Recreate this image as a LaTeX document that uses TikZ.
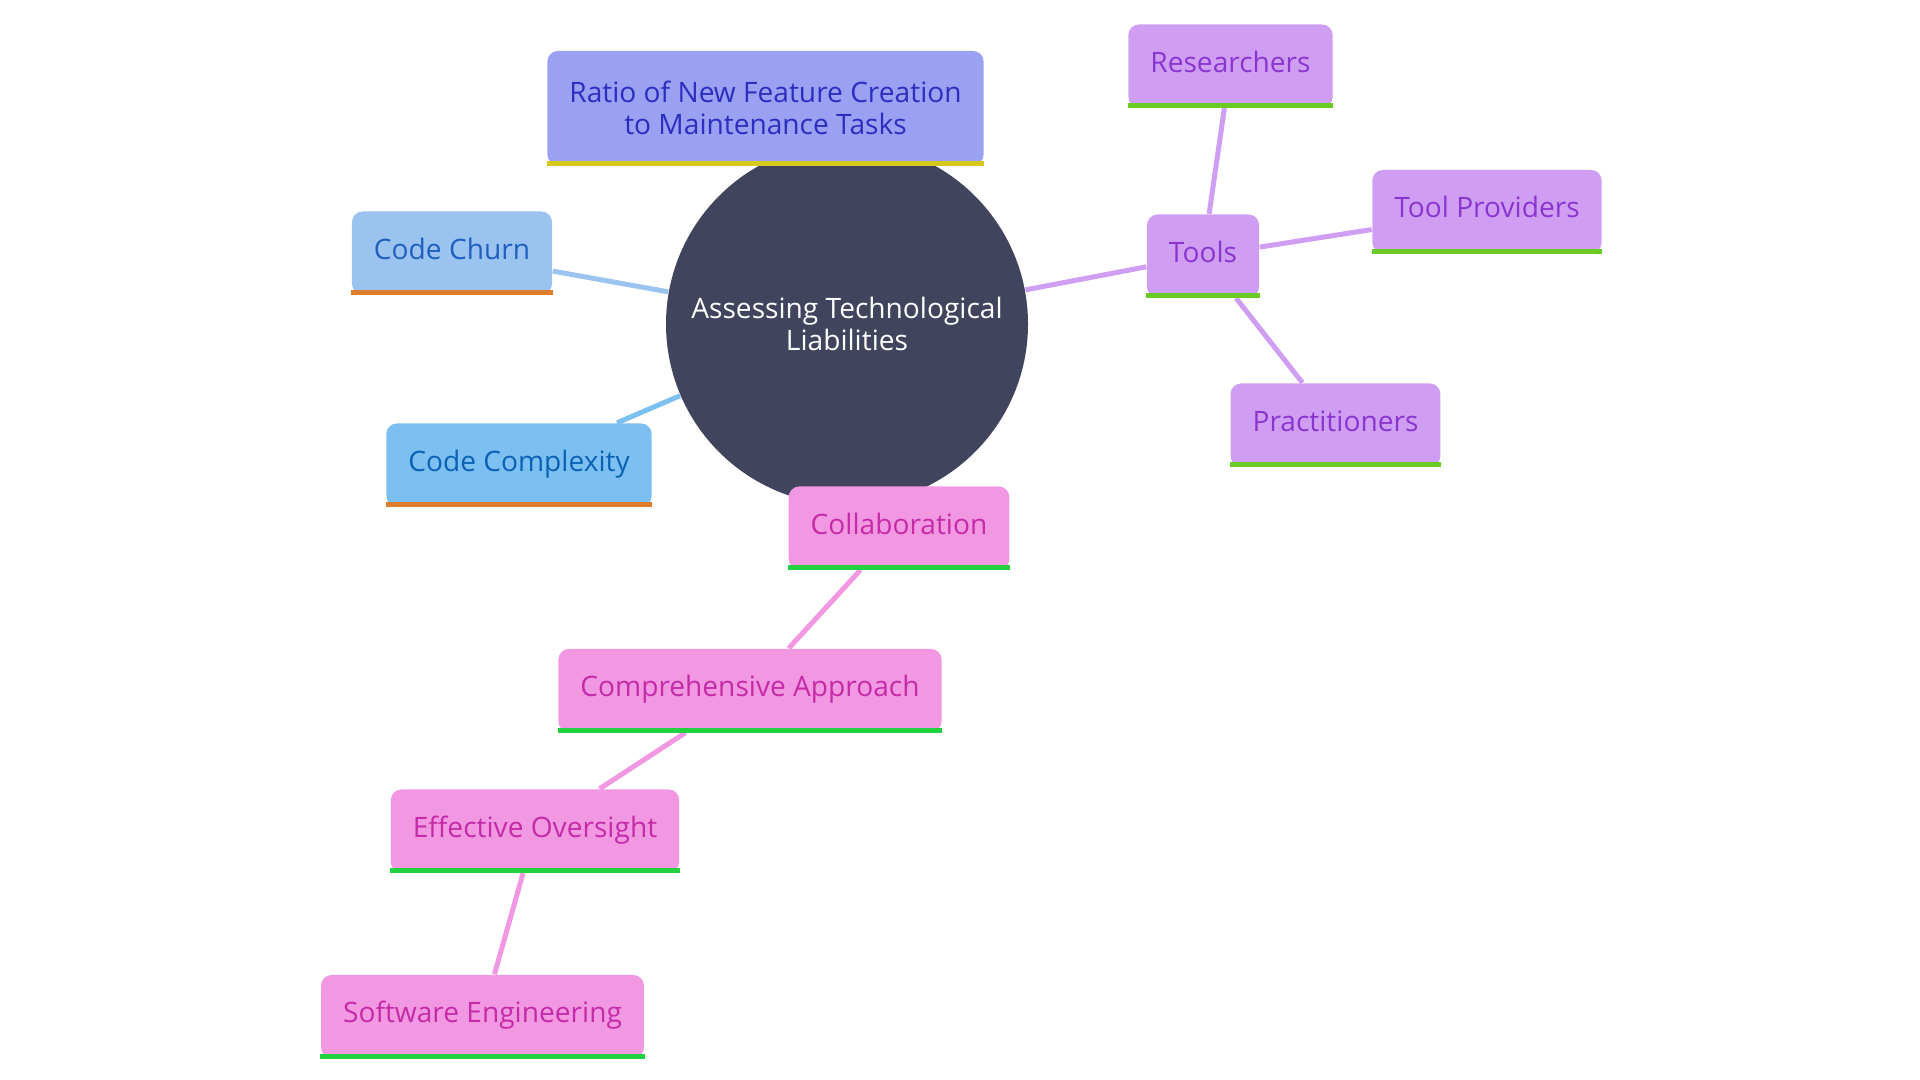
\documentclass[tikz,border=0pt]{standalone}
\usepackage{fontspec}
\setmainfont{Open Sans}
\usetikzlibrary{backgrounds}
\definecolor{hubfill}{RGB}{64,68,92}
\definecolor{ratiofill}{RGB}{154,160,242}
\definecolor{ratiotext}{RGB}{43,47,192}
\definecolor{baryellow}{RGB}{214,200,28}
\definecolor{churnfill}{RGB}{154,195,239}
\definecolor{churntext}{RGB}{31,95,191}
\definecolor{cplxfill}{RGB}{124,192,242}
\definecolor{cplxtext}{RGB}{11,98,180}
\definecolor{barorange}{RGB}{222,125,44}
\definecolor{toolfill}{RGB}{207,158,242}
\definecolor{tooltext}{RGB}{138,53,208}
\definecolor{barlime}{RGB}{106,204,34}
\definecolor{collabfill}{RGB}{242,152,226}
\definecolor{collabtext}{RGB}{197,42,168}
\definecolor{bargreen}{RGB}{34,209,64}

\begin{document}
\begin{tikzpicture}[
    mbox/.style={rectangle, rounded corners=3pt, minimum height=0.83cm, inner xsep=0.22cm, align=center, font=\fontsize{8}{9.1}\selectfont},
    leaf/.style={mbox, text height=0.21cm, text depth=0.085cm},
    hub/.style={circle, fill=hubfill, text=white, minimum size=3.62cm, align=center, font=\fontsize{8}{9.1}\selectfont},
    link/.style={line width=0.05cm}
]
    \useasboundingbox (0,0) rectangle (19.2,10.8);

    % Centre
    \node[hub] (hub) at (8.47,7.56) {Assessing Technological\\Liabilities};

    % Left branch
    \node[mbox, fill=ratiofill, text=ratiotext, minimum height=1.14cm] (ratio) at (7.655,9.72) {Ratio of New Feature Creation\\to Maintenance Tasks};
    \node[leaf, fill=churnfill, text=churntext] (churn) at (4.52,8.27) {Code Churn};
    \node[leaf, fill=cplxfill, text=cplxtext] (cplx) at (5.19,6.15) {Code Complexity};

    % Tools
    \node[leaf, fill=toolfill, text=tooltext] (tools) at (12.03,8.24) {Tools};
    \node[leaf, fill=toolfill, text=tooltext] (research) at (12.305,10.14) {Researchers};
    \node[leaf, fill=toolfill, text=tooltext] (providers) at (14.87,8.685) {Tool Providers};
    \node[leaf, fill=toolfill, text=tooltext] (practice) at (13.355,6.55) {Practitioners};

    % Collaboration chain
    \node[leaf, fill=collabfill, text=collabtext] (collab) at (8.99,5.52) {Collaboration};
    \node[leaf, fill=collabfill, text=collabtext] (approach) at (7.50,3.895) {Comprehensive Approach};
    \node[leaf, fill=collabfill, text=collabtext] (oversight) at (5.35,2.49) {Effective Oversight};
    \node[leaf, fill=collabfill, text=collabtext] (softeng) at (4.825,0.635) {Software Engineering};

    % Bottom bars
    \foreach \n/\c in {ratio/baryellow, churn/barorange, cplx/barorange, tools/barlime, research/barlime, providers/barlime, practice/barlime, collab/bargreen, approach/bargreen, oversight/bargreen, softeng/bargreen}
        \fill[\c] (\n.south west) rectangle ([yshift=0.05cm]\n.south east);

    % Links
    \begin{scope}[on background layer]
        \draw[link, churnfill] (hub) -- (churn);
        \draw[link, cplxfill] (hub) -- (cplx);
        \draw[link, ratiofill] (hub) -- (ratio);
        \draw[link, toolfill] (hub) -- (tools);
        \draw[link, toolfill] (tools) -- (research);
        \draw[link, toolfill] (tools) -- (providers);
        \draw[link, toolfill] (tools) -- (practice);
        \draw[link, collabfill] (hub) -- (collab);
        \draw[link, collabfill] (collab) -- (approach);
        \draw[link, collabfill] (approach) -- (oversight);
        \draw[link, collabfill] (oversight) -- (softeng);
    \end{scope}
\end{tikzpicture}
\end{document}
